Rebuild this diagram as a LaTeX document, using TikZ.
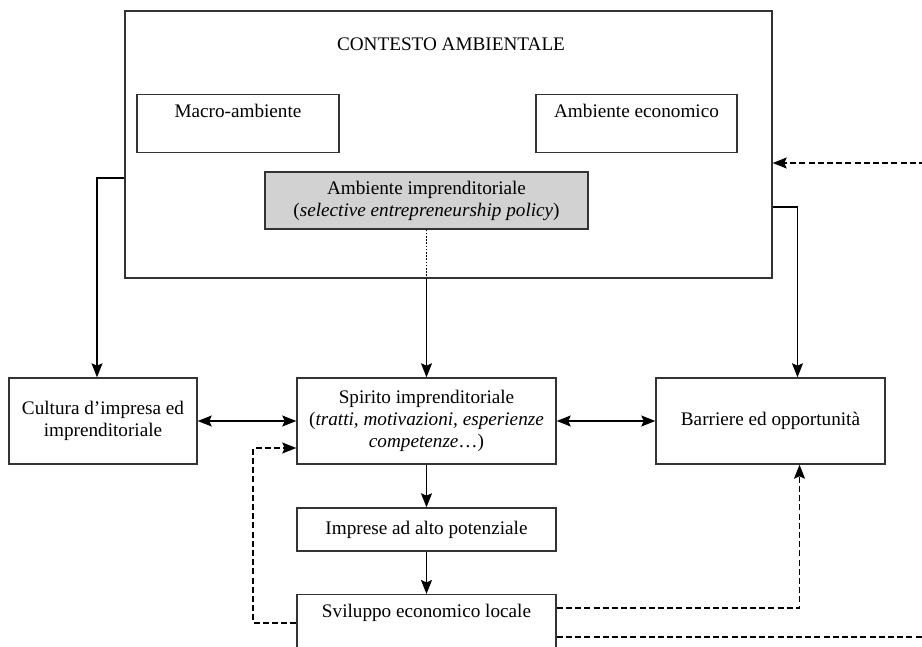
\documentclass[tikz,border=0pt]{standalone}
\usepackage{fontspec}
\setmainfont{Liberation Serif}
\usetikzlibrary{arrows.meta, positioning}

\tikzset{
    box/.style={draw=black!80, line width=0.7pt, align=center, inner sep=4pt, font=\fontsize{9.6}{11}\selectfont},
    topbox/.style={box, anchor=north, text height=7.5pt},
    link/.style={line width=0.7pt, -{Stealth[length=7pt, width=5.5pt, inset=1.2pt]}},
    twoway/.style={line width=0.7pt, {Stealth[length=7pt, width=5.5pt, inset=1.2pt]}-{Stealth[length=7pt, width=5.5pt, inset=1.2pt]}},
    fback/.style={link, dash pattern=on 3pt off 1.6pt},
}

\begin{document}
\begin{tikzpicture}[x=0.5pt, y=-0.5pt]
    \useasboundingbox (0,0) rectangle (922,647);

    % contesto ambientale
    \node[box, minimum width=323.5pt, minimum height=133.5pt] (ctx) at (448.5,144.5) {};
    \node[font=\fontsize{9.6}{11}\selectfont] (title) at (451,44) {CONTESTO AMBIENTALE};
    \node[topbox, minimum width=101pt, text depth=13.5pt] (macro) at (238,94) {Macro-ambiente};
    \node[topbox, minimum width=100.5pt, text depth=13.5pt] (econ) at (636.5,94) {Ambiente economico};
    \node[box, fill=gray!35, minimum width=161.5pt, minimum height=28.5pt] (impramb) at (426.5,200.5)
        {Ambiente imprenditoriale\\(\textit{selective entrepreneurship policy})};

    % livello centrale
    \node[box, minimum width=94pt, minimum height=43pt] (cultura) at (103,421)
        {Cultura d'impresa ed\\imprenditoriale};
    \node[box, minimum width=129.5pt, minimum height=43pt] (spirito) at (426.5,421)
        {Spirito imprenditoriale\\(\textit{tratti, motivazioni, esperienze}\\\textit{competenze}\dots)};
    \node[box, minimum width=114.5pt, minimum height=43pt] (barriere) at (770.5,421)
        {Barriere ed opportunità};
    \node[box, minimum width=129.5pt, minimum height=21.5pt] (imprese) at (426.5,529.5)
        {Imprese ad alto potenziale};
    \node[topbox, minimum width=129.5pt, text depth=30pt] (svil) at (426.5,594)
        {Sviluppo economico locale};

    % collegamenti
    \draw[line width=0.8pt, dash pattern=on 0.8pt off 0.8pt] (impramb.south) -- (impramb.south |- ctx.south);
    \draw[link] (impramb.south |- ctx.south) -- (spirito.north);
    \draw[link] (ctx.west |- 0,178) -| ([xshift=-3pt]cultura.north);
    \draw[link] (ctx.east |- 0,207) -| ([xshift=13.5pt]barriere.north);
    \draw[twoway] (cultura.east) -- (spirito.west);
    \draw[twoway] (spirito.east) -- (barriere.west);
    \draw[link] (spirito.south) -- (imprese.north);
    \draw[link] (imprese.south) -- (svil.north);

    % retroazioni
    \coordinate (outA) at (925,637);
    \coordinate (outB) at (925,163);
    \draw[fback] (svil.west |- 0,623) -- (253,623) |- ([yshift=-13.5pt]spirito.west);
    \draw[fback] (svil.east |- 0,608) -| ([xshift=14.5pt]barriere.south);
    \draw[fback, -] (svil.east |- outA) -- (outA);
    \draw[fback] (outB) -- (ctx.east |- outB);
\end{tikzpicture}
\end{document}
